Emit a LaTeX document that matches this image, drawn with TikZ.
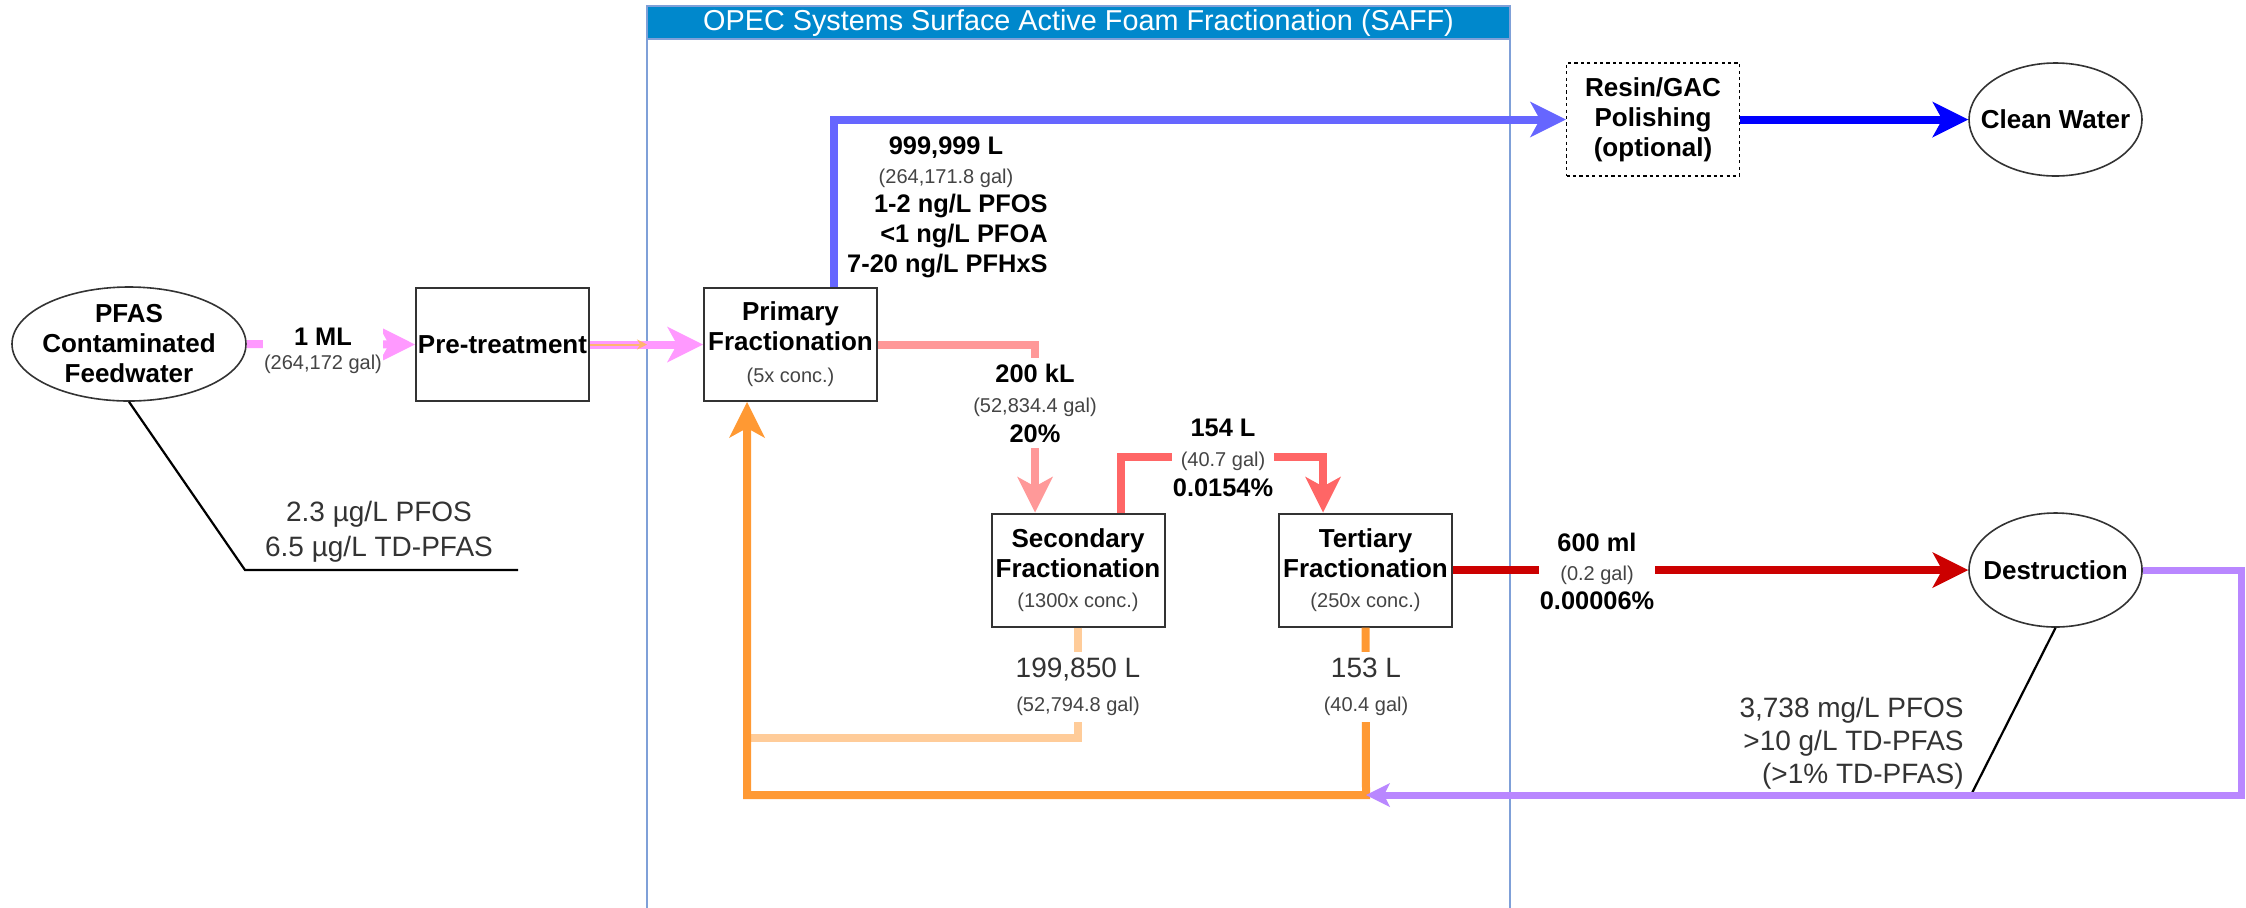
\documentclass[tikz,border=0pt]{standalone}
\usepackage{fontspec}
\setmainfont{Liberation Sans}
\usetikzlibrary{arrows.meta,shapes.geometric,calc}
\definecolor{cpink}{HTML}{FF99FF}
\definecolor{csalmon}{HTML}{FF9999}
\definecolor{cred}{HTML}{FF6666}
\definecolor{cdred}{HTML}{CC0000}
\definecolor{cblue}{HTML}{6666FF}
\definecolor{cpblue}{HTML}{0000FF}
\definecolor{cpurple}{HTML}{B987FF}
\definecolor{corange}{HTML}{FF9933}
\definecolor{clorange}{HTML}{FFCC99}
\definecolor{cthin}{HTML}{FFB570}
\definecolor{ctitle}{HTML}{0088CC}
\definecolor{cframe}{HTML}{7FA0D8}
\definecolor{cgrey}{HTML}{444444}
\definecolor{cnote}{HTML}{333333}
\definecolor{cborder}{HTML}{333333}
\newcommand\fB{\fontsize{13}{15}\selectfont\bfseries}
\newcommand\fL{\fontsize{12.7}{15}\selectfont\bfseries}
\newcommand\fS{\fontsize{10}{12}\selectfont\mdseries\color{cgrey}}
\newcommand\fN{\fontsize{14}{17}\selectfont\mdseries\color{cnote}}
\begin{document}
\begin{tikzpicture}[x=0.5pt,y=-0.5pt,
  box/.style={draw=cborder, line width=1pt, rectangle, minimum width=86.5pt, minimum height=56.5pt, inner sep=1pt, align=center, font=\fB},
  ell/.style={draw=cborder, line width=0.8pt, ellipse, inner sep=0pt},
  etext/.style={align=center, font=\fB, inner sep=0pt},
  lbl/.style={fill=white, align=center, inner xsep=0.5pt, inner ysep=3pt, font=\fontsize{12.7}{15}\selectfont},
  flow/.style={line width=4pt, -{Stealth[length=18pt,width=18pt,inset=5pt,line width=0pt]}},
  flowsmall/.style={line width=3.5pt, -{Stealth[length=12pt,width=12pt,inset=3pt,line width=0pt]}},
  plainflow/.style={line width=4pt},
  callout/.style={line width=1.1pt, draw=black}
]
\useasboundingbox (0,0) rectangle (2246,907);
\fill[white] (0,0) rectangle (2246,907);

% container
\fill[ctitle] (647,6) rectangle (1510,39);
\draw[cframe, line width=0.6pt] (647,930) -- (647,6) -- (1510,6) -- (1510,930);
\draw[cframe, line width=0.6pt] (647,39) -- (1510,39);
\node[text=white, font=\fontsize{14.4}{16}\selectfont, inner sep=0pt] (title) at (1078.5,23) {OPEC Systems Surface Active Foam Fractionation (SAFF)};

% nodes
\node[ell, minimum width=117pt, minimum height=57pt, label={[etext]center:{PFAS\\Contaminated\\Feedwater}}] (feed) at (129,344) {};
\node[box] (pre) at (502.5,344.5) {Pre-treatment};
\node[box] (prim) at (790.5,344.5) {Primary\\Fractionation\\[1pt]{\fS (5x conc.)}};
\node[box] (sec) at (1078,570) {Secondary\\Fractionation\\{\fS (1300x conc.)}};
\node[box] (ter) at (1365.5,570) {Tertiary\\Fractionation\\{\fS (250x conc.)}};
\node[box, line width=0.6pt, draw=black, dash pattern=on 1.6pt off 1.6pt] (resin) at (1653,119.5) {Resin/GAC\\Polishing\\(optional)};
\node[ell, minimum width=86.5pt, minimum height=56.5pt, label={[etext]center:{Clean Water}}] (clean) at (2055.5,119.5) {};
\node[ell, minimum width=86.5pt, minimum height=57pt, label={[etext]center:{Destruction}}] (dest) at (2055.5,570) {};

% helper coordinates
\coordinate (pb) at ($(prim.south)+(-43.5,0)$);
\coordinate (pt) at ($(prim.north)+(43.5,0)$);
\coordinate (sn) at ($(sec.north)+(-43,0)$);
\coordinate (sne) at ($(sec.north)+(43,0)$);
\coordinate (tn) at ($(ter.north)+(-42.5,0)$);
\coordinate (pj) at (1366,795);
\coordinate (lj) at (747,738);
\coordinate (oj) at (647,344.5);
\coordinate (fc) at (518,570);
\coordinate (dc) at (1971,795);

% callouts
\draw[callout] (feed.south) -- (245,570) -- (fc);
\draw[callout] (dest.south) -- (dc);

% flows
\draw[flow, cpink] (feed.east) -- (pre.west);
\node[lbl] (l1) at (323,351) {{\fL 1 ML}\\[-3pt]{\fS (264,172 gal)}};
\draw[flow, cpink] (pre.east) -- (prim.west);
\draw[cthin, line width=1pt, -{Stealth[length=5pt,width=5pt]}] (pre.east) -- (oj);

\draw[flow, cblue] (pt) |- (resin.west);
\draw[flow, cpblue] (resin.east) -- (clean.west);
\node[align=center, inner sep=0pt, font=\fontsize{12.7}{15}\selectfont] (l0a) at (946,162) {{\fL 999,999 L}\\[-0.5pt]{\fS (264,171.8 gal)}};
\node[align=right, inner sep=0pt, anchor=east, font=\fL] (l0b) at (1048,236) {1-2 ng/L PFOS\\<1 ng/L PFOA\\7-20 ng/L PFHxS};

\draw[flow, csalmon] (prim.east) -| (sn);
\node[lbl] (l2) at (1035,403) {{\fL 200 kL}\\{\fS (52,834.4 gal)}\\{\fL 20\%}};

\draw[flow, cred] (sne) -- ++(0,-56) -| (tn);
\node[lbl] (l3) at (1223,458) {{\fL 154 L}\\{\fS (40.7 gal)}\\{\fL 0.0154\%}};

\draw[flow, cdred] (ter.east) -- (dest.west);
\node[lbl] (l4) at (1597,571) {{\fL 600 ml}\\[-0.5pt]{\fS (0.2 gal)}\\[-0.5pt]{\fL 0.00006\%}};

\draw[plainflow, clorange] (sec.south) |- (lj);
\node[lbl] (l5) at (1078,687) {{\fN 199,850 L}\\[2pt]{\fS (52,794.8 gal)}};

\draw[flow, corange] (ter.south) -- (pj) -| (pb);
\node[lbl] (l6) at (1366,687) {{\fN 153 L}\\[2pt]{\fS (40.4 gal)}};

\draw[flowsmall, cpurple] (dest.east) -| (2241,795) -- (pj);

% notes
\node[align=center, inner sep=0pt, font=\fontsize{14}{17.5}\selectfont\color{cnote}] (n1) at (379,532) {2.3 µg/L PFOS\\6.5 µg/L TD-PFAS};
\node[align=right, inner sep=0pt, anchor=east, font=\fontsize{14}{16.5}\selectfont\color{cnote}] (n2) at (1964,743) {3,738 mg/L PFOS\\>10 g/L TD-PFAS\\(>1\% TD-PFAS)};
\end{tikzpicture}
\end{document}
